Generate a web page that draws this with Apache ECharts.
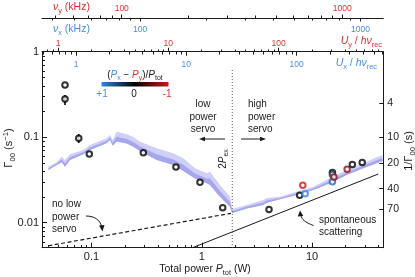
<!DOCTYPE html>
<html><head><meta charset="utf-8">
<script src="https://cdn.jsdelivr.net/npm/echarts@6/dist/echarts.min.js"></script>
<style>html,body{margin:0;padding:0;background:#fff}#c{width:415px;height:277px}</style>
</head><body><div id="c"></div>
<script>
// ---------------- data ----------------
const pointPower = [0.0575, 0.0575, 0.0766, 0.0955, 0.295, 0.583, 0.963, 1.547, 4.07, 7.72, 8.66, 8.24, 15.3, 15.3, 15.3, 15.8, 20.8, 23.2, 28.5];
const pointGamma = [0.408, 0.280, 0.0971, 0.0636, 0.0659, 0.0448, 0.0297, 0.0150, 0.0143, 0.0209, 0.0218, 0.0275, 0.0387, 0.0366, 0.0302, 0.0342, 0.0421, 0.0481, 0.0507];
const pointImbalance = [0, 0, 0, 0, 0, 0, 0, 0, 0, 0, 1, -1, 0, 0.45, 0.8, -0.65, -0.7, 0, 0];
const errPower = [0.0575, 0.0766];
const errLow = [0.238, 0.0855];
const errHigh = [0.312, 0.109];

const bandPower = [0.0406,0.0484,0.0537,0.0575,0.0638,0.0843,0.0969,0.137,0.147,0.156,0.169,0.209,0.239,0.275,0.390,0.552,0.680,0.868,1.108,1.187,1.462,1.801,1.890,2.554,3.612,3.877,5.117,7.252,10.25,14.53,20.59,29.13,38.52,43.5];
const bandHigh = [0.0452,0.0513,0.0592,0.0541,0.0631,0.0709,0.0811,0.0971,0.1061,0.0928,0.1160,0.1081,0.1005,0.0886,0.0742,0.0648,0.0566,0.0433,0.0378,0.0395,0.0276,0.0201,0.0145,0.0161,0.0184,0.0195,0.0201,0.0231,0.0264,0.0331,0.0413,0.0495,0.0582,0.0619];
const bandLow = [0.0413,0.0473,0.0509,0.0452,0.0541,0.0631,0.0709,0.0849,0.0928,0.0796,0.0890,0.0844,0.0774,0.0690,0.0541,0.0473,0.0402,0.0329,0.0289,0.0276,0.0201,0.0154,0.0130,0.0147,0.0161,0.0171,0.0188,0.0211,0.0241,0.0289,0.0361,0.0433,0.0495,0.0527];
const bandCore = [0.0432,0.0492,0.0548,0.0494,0.0583,0.0668,0.0756,0.0905,0.0990,0.0858,0.1010,0.0950,0.0880,0.0780,0.0630,0.0550,0.0475,0.0377,0.0330,0.0328,0.0235,0.0175,0.0137,0.0154,0.0172,0.0182,0.0194,0.0221,0.0252,0.0309,0.0386,0.0463,0.0537,0.0571];

const noServoPower = [0.0406, 1.84];
const noServoGamma = [0.00538, 0.01288];
const spontPower = [0.822, 39.8];
const spontGamma = [0.0051, 0.0371];
const twoPex = 1.89;
const twoPexGamma = [0.611, 0.0051];

const xTickLabels = [0.1, 1, 10];
const yTickLabels = [0.01, 0.1, 1];
const rightTickLabels = [4, 10, 20, 40, 70];
const uTickLabels = [1, 10, 100];
const nuTickLabels = [100, 1000];

// ---------------- axis geometry ----------------
const L = Math.log10;
const PMIN = -1.449, PMAX = 1.646;      // log10 of total power (W)
const GMIN = -2.292, GMAX = 0;          // log10 of Gamma
const UY = 1.3037, UX = 1.1405;         // log10(U/h nu_rec) - log10(P)
const NUY0 = L(0.188), NUX0 = L(0.2753); // power where nu = 100 kHz
const nuY = p => 2 + (p - NUY0) / 2, nuX = p => 2 + (p - NUX0) / 2;
const NU_OFFSET = 33.7;
const MINOR = 3, MINOR_TOP = 2.5;

const FONT = 'Liberation Sans, Arial, Helvetica, sans-serif';
const RED = '#d8322f', BLUE = '#4a8fe2', INK = '#1a1a1a';

function minorTicks(lo, hi) {
  const out = [];
  for (let e = -4; e <= 4; e++) {
    for (let m = 2; m <= 9; m++) {
      const v = Math.log10(m) + e;
      if (v > lo + 1e-6 && v < hi - 1e-6) out.push(v);
    }
  }
  return out;
}
const fmt = v => String(parseFloat(Math.pow(10, v).toPrecision(2)));

function ax(o) {
  return {
    type: 'value', min: o.min, max: o.max, position: o.position, offset: o.offset || 0,
    splitLine: {show: false},
    axisLine: {show: !!o.line, onZero: false, lineStyle: {color: INK, width: 1}},
    axisTick: {show: true, inside: o.inside, length: o.len, customValues: o.ticks, lineStyle: {color: INK, width: 1}},
    axisLabel: {show: true, customValues: o.ticks, formatter: o.formatter || fmt, inside: !!o.labelInside,
      fontSize: o.fs, color: o.color || '#222', margin: o.margin, fontFamily: FONT}
  };
}

const xAxes = [
  ax({position: 'bottom', min: PMIN, max: PMAX, line: true, inside: true, len: 5, ticks: xTickLabels.map(L), fs: 11, margin: 4}),
  ax({position: 'top', min: PMIN + UY, max: PMAX + UY, line: true, inside: false, len: 4, ticks: uTickLabels.map(L), fs: 8.5, color: RED, margin: 4}),
  ax({position: 'top', min: PMIN + UX, max: PMAX + UX, inside: true, len: 4, ticks: uTickLabels.map(L), labelInside: true, fs: 8.5, color: BLUE, margin: 8}),
  ax({position: 'top', offset: NU_OFFSET, min: nuY(PMIN), max: nuY(PMAX), line: true, inside: false, len: 3.5, ticks: nuTickLabels.map(L), fs: 8.5, color: RED, margin: 5}),
  ax({position: 'top', offset: NU_OFFSET, min: nuX(PMIN), max: nuX(PMAX), inside: true, len: 3.5, ticks: nuTickLabels.map(L), labelInside: true, fs: 8.5, color: BLUE, margin: 7})
];
const yAxes = [
  ax({position: 'left', min: GMIN, max: GMAX, line: true, inside: true, len: 5, ticks: yTickLabels.map(L), fs: 11, margin: 3}),
  ax({position: 'right', min: GMIN, max: GMAX, line: true, inside: true, len: 4, ticks: rightTickLabels.map(t => -L(t)),
      formatter: v => String(Math.round(1 / Math.pow(10, v))), fs: 10.5, margin: 4})
];

// minor ticks, placed through the main grid's scales: [logP, logGamma, dx, dy, yOffset]
const minorTickItems = [].concat(
  minorTicks(PMIN, PMAX).map(v => [v, GMIN, 0, -MINOR, 0]),
  minorTicks(GMIN, GMAX).map(v => [PMIN, v, MINOR, 0, 0]),
  minorTicks(PMIN + UY, PMAX + UY).map(v => [v - UY, GMAX, 0, -MINOR_TOP, 0]),
  minorTicks(PMIN + UX, PMAX + UX).map(v => [v - UX, GMAX, 0, MINOR_TOP, 0]),
  minorTicks(nuY(PMIN), nuY(PMAX)).map(v => [NUY0 + 2 * (v - 2), GMAX, 0, -MINOR_TOP, -NU_OFFSET]),
  minorTicks(nuX(PMIN), nuX(PMAX)).map(v => [NUX0 + 2 * (v - 2), GMAX, 0, MINOR_TOP, -NU_OFFSET])
);

// ---------------- series ----------------
const xy = (xs, ys) => xs.map((x, i) => [L(x), L(ys[i])]);
function bandPolygon(lo, hi, color) {
  return {type: 'custom', silent: true, z: 1, clip: true,
    data: bandPower.map((p, i) => [L(p), L(lo[i]), L(hi[i])]),
    renderItem(params, api) {
      if (params.dataIndex !== 0) return null;
      const top = [], bot = [];
      for (let i = 0; i < bandPower.length; i++) {
        top.push(api.coord([L(bandPower[i]), L(hi[i])]));
        bot.push(api.coord([L(bandPower[i]), L(lo[i])]));
      }
      return {type: 'polygon', shape: {points: top.concat(bot.reverse())}, style: {fill: color}};
    }};
}
const series = [
  bandPolygon(bandLow, bandHigh, '#cfcff7'),
  bandPolygon(bandLow, bandCore, '#a6a6ed'),
  {type: 'line', data: xy(noServoPower, noServoGamma), symbol: 'none', lineStyle: {color: INK, width: 1.2, type: [4, 2.5]}, z: 3},
  {type: 'line', data: xy(spontPower, spontGamma), symbol: 'none', lineStyle: {color: INK, width: 1}, z: 3},
  {type: 'line', data: xy([twoPex, twoPex], twoPexGamma), symbol: 'none', lineStyle: {color: '#555', width: 1, type: [1, 2]}, z: 3},
  {type: 'custom', data: errPower.map((p, i) => [L(p), L(errLow[i]), L(errHigh[i])]), z: 4,
   renderItem(params, api) {
     const a = api.coord([api.value(0), api.value(1)]), b = api.coord([api.value(0), api.value(2)]);
     return {type: 'line', shape: {x1: a[0], y1: a[1], x2: b[0], y2: b[1]}, style: {stroke: INK, lineWidth: 1.8}};
   }},
  {type: 'scatter', data: pointPower.map((p, i) => [L(p), L(pointGamma[i]), pointImbalance[i]]), symbol: 'emptyCircle', symbolSize: 5.5,
   itemStyle: {borderWidth: 1.7}, z: 5}
];
series.forEach(s => { s.xAxisIndex = 0; s.yAxisIndex = 0; s.animation = false; });

// ---------------- text / annotations ----------------
const rich = (fs, color) => ({
  n: {fontSize: fs, fill: color, fontFamily: FONT, lineHeight: fs + 4},
  i: {fontSize: fs, fill: color, fontFamily: FONT, fontStyle: 'italic', lineHeight: fs + 4},
  s: {fontSize: fs * 0.7, fill: color, fontFamily: FONT, verticalAlign: 'bottom', lineHeight: fs * 0.7 + 1},
  p: {fontSize: fs * 0.7, fill: color, fontFamily: FONT, verticalAlign: 'top', lineHeight: fs * 0.7 + 1},
  ib: {fontSize: fs, fill: BLUE, fontFamily: FONT, fontStyle: 'italic', lineHeight: fs + 4},
  sb: {fontSize: fs * 0.7, fill: BLUE, fontFamily: FONT, verticalAlign: 'bottom', lineHeight: fs * 0.7 + 1},
  ir: {fontSize: fs, fill: RED, fontFamily: FONT, fontStyle: 'italic', lineHeight: fs + 4},
  sr: {fontSize: fs * 0.7, fill: RED, fontFamily: FONT, verticalAlign: 'bottom', lineHeight: fs * 0.7 + 1}
});
function rt(x, y, text, fs, color, align, rot) {
  return {type: 'text', x: x, y: y, rotation: rot || 0, z: 10,
    style: {text: text, rich: rich(fs, color), fill: color, textAlign: align || 'center', textVerticalAlign: 'middle', font: fs + 'px ' + FONT}};
}
function pt(x, y, text, fs, align, lh) {
  return {type: 'text', x: x, y: y, z: 10,
    style: {text: text, fill: INK, font: fs + 'px ' + FONT, textAlign: align, textVerticalAlign: 'middle', lineHeight: lh}};
}
const arrowLine = (x1, y1, x2, y2) => ({type: 'line', z: 10, shape: {x1, y1, x2, y2}, style: {stroke: INK, lineWidth: 1}});
const head = pts => ({type: 'polygon', z: 10, shape: {points: pts}, style: {fill: INK}});

const graphics = [
  rt(53, 7, '{i|ν}{s|y}{n| (kHz)}', 10.5, RED, 'left'),
  rt(53, 29.5, '{i|ν}{s|x}{n| (kHz)}', 10.5, BLUE, 'left'),
  rt(382, 41, '{i|U}{s|y}{n| / }{i|hν}{s|rec}', 10.5, RED, 'right'),
  rt(377, 63.5, '{i|U}{s|x}{n| / }{i|hν}{s|rec}', 10.5, BLUE, 'right'),
  rt(9, 148, '{n|Γ}{s|00}{n| (s}{p|−1}{n|)}', 11, INK, 'center', Math.PI / 2),
  rt(409, 151, '{n|1/Γ}{s|00}{n| (s)}', 11, INK, 'center', Math.PI / 2),
  rt(205, 269.5, '{n|Total power }{i|P}{s|tot}{n| (W)}', 10.5, INK, 'center'),
  rt(223, 159, '{n|2}{i|P}{s|ex}', 10, INK, 'center', Math.PI / 2),
  rt(135, 75, '{n|(}{ib|P}{sb|x}{n| − }{ir|P}{sr|y}{n|)/}{i|P}{s|tot}', 10, INK, 'center'),
  {type: 'rect', z: 10, shape: {x: 101.5, y: 82, width: 67, height: 4.5},
   style: {fill: {type: 'linear', x: 0, y: 0, x2: 1, y2: 0, colorStops: [
     {offset: 0, color: '#2f86ea'}, {offset: 0.5, color: '#000000'}, {offset: 1, color: '#d4141c'}]}}},
  {type: 'text', x: 102, y: 94, z: 10, style: {text: '+1', fill: BLUE, font: '10px ' + FONT, textAlign: 'center', textVerticalAlign: 'middle'}},
  {type: 'text', x: 134, y: 94, z: 10, style: {text: '0', fill: INK, font: '10px ' + FONT, textAlign: 'center', textVerticalAlign: 'middle'}},
  {type: 'text', x: 167, y: 94, z: 10, style: {text: '-1', fill: RED, font: '10px ' + FONT, textAlign: 'center', textVerticalAlign: 'middle'}},
  pt(203, 117, 'low\npower\nservo', 10, 'center', 12.5),
  pt(248, 117, 'high\npower\nservo', 10, 'left', 12.5),
  pt(52, 217, 'no low\npower\nservo', 10, 'left', 12.5),
  pt(319, 226.5, 'spontaneous\nscattering', 10, 'left', 11.6),
  arrowLine(204, 139, 225, 139), head([[199, 139], [205, 136.8], [205, 141.2]]),
  arrowLine(241, 139, 261, 139), head([[266, 139], [260, 136.8], [260, 141.2]]),
  {type: 'bezierCurve', z: 10, shape: {x1: 86, y1: 216, cpx1: 95, cpy1: 216, cpx2: 100, cpy2: 220.5, x2: 101.5, y2: 226},
   style: {stroke: INK, lineWidth: 1, fill: null}},
  head([[102.5, 231.5], [99, 225.5], [104.5, 225]]),
  {type: 'bezierCurve', z: 10, shape: {x1: 313.5, y1: 225.5, cpx1: 305, cpy1: 222.5, cpx2: 301.5, cpy2: 219, x2: 301, y2: 215.5},
   style: {stroke: INK, lineWidth: 1, fill: null}},
  head([[300, 210.5], [297.8, 216.5], [303.3, 216]])
];

const chart = echarts.init(document.getElementById('c'), null, {renderer: 'canvas'});
chart.setOption({
  animation: false,
  backgroundColor: '#fff',
  grid: {left: 42, right: 31.7, top: 51.7, bottom: 29.3, containLabel: false},
  xAxis: xAxes,
  yAxis: yAxes,
  visualMap: {type: 'continuous', show: false, seriesIndex: series.length - 1, dimension: 2, min: -1, max: 1,
    inRange: {color: ['#d4141c', '#000000', '#2f86ea']}},
  series: series,
  graphic: graphics
});

// minor log ticks: positions converted through the chart's own axes
const tickEls = minorTickItems.map(function (t) {
  const p = chart.convertToPixel({gridIndex: 0}, [t[0], t[1]]);
  const x = Math.round(p[0]) + (t[2] === 0 ? 0.5 : 0);
  const y = Math.round(p[1] + t[4]) + (t[3] === 0 ? 0.5 : 0);
  return {type: 'line', z: 9, silent: true, shape: {x1: x, y1: y, x2: x + t[2], y2: y + t[3]}, style: {stroke: INK, lineWidth: 1}};
});
chart.setOption({graphic: graphics.concat(tickEls)});
</script>
</body></html>
